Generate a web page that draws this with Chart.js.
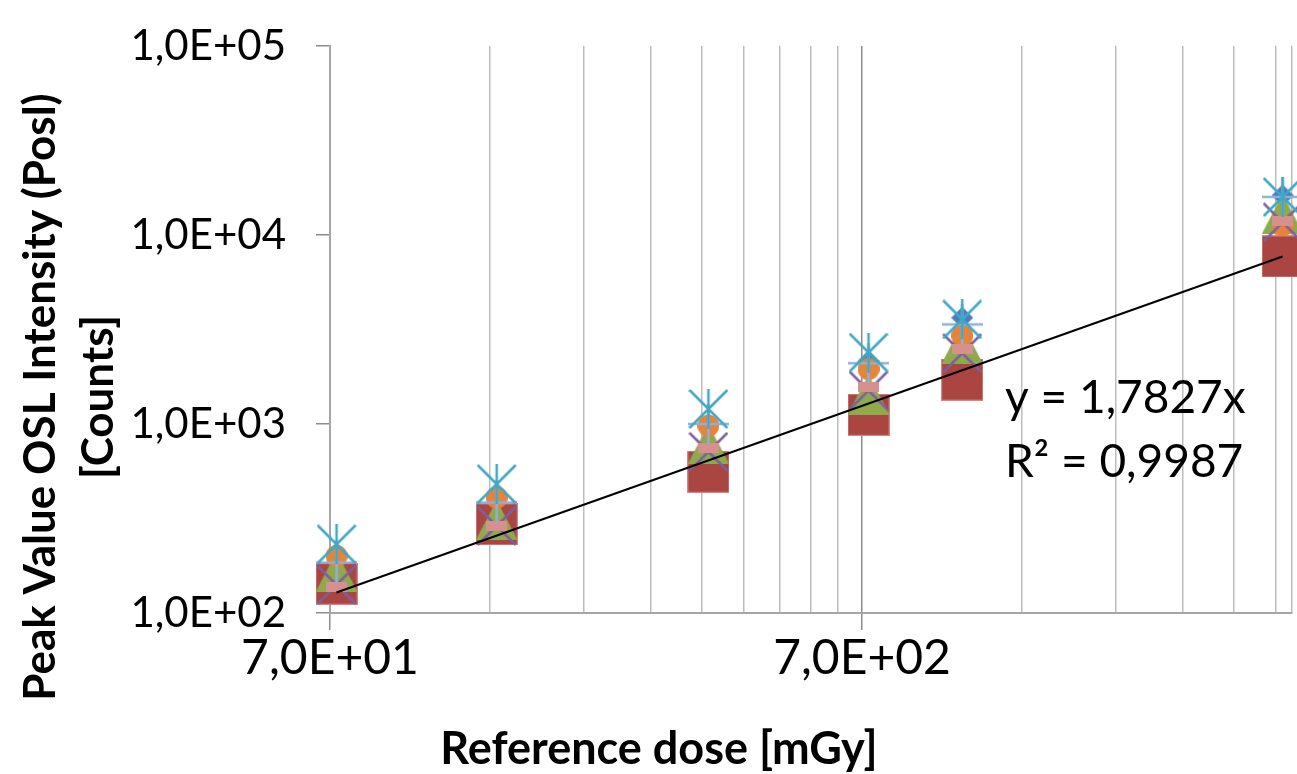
<!DOCTYPE html>
<html>
<head>
<meta charset="utf-8">
<title>Peak Value OSL Intensity vs Reference dose</title>
<script src="https://cdn.jsdelivr.net/npm/chart.js@4.4.1/dist/chart.umd.min.js"></script>
<style>
  html, body { margin: 0; padding: 0; background: #fff; }
  #wrap { width: 1297px; height: 774px; }
</style>
</head>
<body>
<div id="wrap"><canvas id="oslChart" width="1297" height="774"></canvas></div>
<script>
// reference doses [mGy]
const doses = [72, 144, 360, 720, 1080, 4320];

// peak OSL counts per dosimeter
const seriesDiamond  = [205, 415, 1000, 2150, 3650, 16200];
const seriesSquare   = [143, 295, 559, 1119, 1718, 7700];
const seriesTriangle = [165, 310, 780, 1430, 2650, 12900];
const seriesCrossX   = [141, 289, 713, 1503, 2371, 11670];
const seriesStar     = [231, 481, 1201, 2388, 3573, 15880];
const seriesCircle   = [200, 408, 980, 1954, 2937, 11250];
const seriesPlus     = [185, 384, 1000, 2097, 3365, 15900];
const seriesDash     = [137, 289, 750, 1577, 2506, 11800];

// linear fit through origin (Excel trendline)
const trendSlope = 1.7827;
const trendR2 = 0.9987;

// axis ticks
const yTicks = [1e2, 1e3, 1e4, 1e5];
const xGridValues = [70, 140, 210, 280, 350, 420, 490, 560, 630, 700, 1400, 2100, 2800, 3500, 4200];
const xLabelValues = [70, 700];
const xMin = 70, xMax = 4500;

function sciComma(v) {
    const parts = v.toExponential(1).split('e');
    const exp = parseInt(parts[1], 10);
    return parts[0].replace('.', ',') + 'E' + (exp < 0 ? '-' : '+') + String(Math.abs(exp)).padStart(2, '0');
}

function toPoints(vals) {
    return doses.map((d, i) => ({ x: d, y: vals[i] }));
}

// small canvases used as Excel-like point markers
function marker(kind, color, w, h) {
    const c = document.createElement('canvas');
    c.width = w; c.height = h;
    const g = c.getContext('2d');
    g.fillStyle = color;
    g.strokeStyle = color;
    g.lineWidth = 2.5;
    if (kind === 'square') {
        g.fillRect(0, 0, w, h);
        g.strokeStyle = 'rgba(214,140,136,0.9)';
        g.lineWidth = 1;
        g.strokeRect(0.5, 0.5, w - 1, h - 1);
    } else if (kind === 'diamond') {
        g.beginPath();
        g.moveTo(w / 2, 0); g.lineTo(w, h / 2); g.lineTo(w / 2, h); g.lineTo(0, h / 2);
        g.closePath(); g.fill();
    } else if (kind === 'triangle') {
        g.beginPath();
        g.moveTo(w / 2, 0); g.lineTo(w, h); g.lineTo(0, h);
        g.closePath(); g.fill();
    } else if (kind === 'circle') {
        g.beginPath();
        g.arc(w / 2, h / 2, w / 2, 0, Math.PI * 2);
        g.fill();
    } else if (kind === 'dash') {
        g.fillRect(0, 0, w, h);
    } else {
        g.beginPath();
        if (kind === 'x' || kind === 'star') {
            g.moveTo(1, 1); g.lineTo(w - 1, h - 1);
            g.moveTo(w - 1, 1); g.lineTo(1, h - 1);
        }
        if (kind === 'star' || kind === 'plus') {
            g.moveTo(w / 2, 0); g.lineTo(w / 2, h);
        }
        if (kind === 'plus') {
            g.moveTo(0, h / 2); g.lineTo(w, h / 2);
        }
        g.stroke();
    }
    return c;
}

function scatterSet(label, vals, style) {
    return {
        label: label,
        data: toPoints(vals),
        showLine: false,
        clip: false,
        pointStyle: style,
        pointRadius: 20,
        pointHoverRadius: 20
    };
}

const trendData = [
    { x: doses[0], y: trendSlope * doses[0] },
    { x: doses[doses.length - 1], y: trendSlope * doses[doses.length - 1] }
];

// titles and fit equation
const textPlugin = {
    id: 'textPlugin',
    afterDraw(chart) {
        const ctx = chart.ctx;
        ctx.save();
        ctx.fillStyle = '#000';

        ctx.font = 'bold 45px Lato';
        ctx.textAlign = 'center';
        ctx.textBaseline = 'alphabetic';
        ctx.fillText('Reference dose [mGy]', 659, 764);

        ctx.save();
        ctx.translate(0, 397);
        ctx.rotate(-Math.PI / 2);
        ctx.font = 'bold 44px Lato';
        ctx.fillText('Peak Value OSL Intensity (Posl)', 0, 55);
        ctx.fillText('[Counts]', 0, 113);
        ctx.restore();

        ctx.font = '46px Lato';
        ctx.textAlign = 'left';
        ctx.fillText('y = ' + String(trendSlope).replace('.', ',') + 'x', 1005, 413);
        ctx.fillText('R\u00B2 = ' + String(trendR2).replace('.', ','), 1005, 477);
        ctx.restore();
    }
};

const ctx = document.getElementById('oslChart').getContext('2d');
new Chart(ctx, {
    type: 'scatter',
    data: {
        datasets: [
            {
                label: 'Linear fit',
                data: trendData,
                showLine: true,
                borderColor: '#000',
                borderWidth: 2,
                pointRadius: 0,
                fill: false
            },
            scatterSet('Star', seriesStar, marker('star', '#40A7C4', 40, 40)),
            scatterSet('Plus', seriesPlus, marker('plus', '#8FB0DA', 41, 40)),
            scatterSet('Dash', seriesDash, marker('dash', '#D6918F', 21, 10)),
            scatterSet('X', seriesCrossX, marker('x', '#7E5FA0', 40, 40)),
            scatterSet('Circle', seriesCircle, marker('circle', '#E6843A', 22, 22)),
            scatterSet('Triangle', seriesTriangle, marker('triangle', '#8FAA4D', 42, 40)),
            scatterSet('Square', seriesSquare, marker('square', '#AA4541', 42, 42)),
            scatterSet('Diamond', seriesDiamond, marker('diamond', '#4A7EBB', 22, 22))
        ]
    },
    options: {
        responsive: false,
        animation: false,
        devicePixelRatio: 1,
        layout: { autoPadding: false, padding: { top: 46, right: 5, bottom: 0, left: 0 } },
        plugins: {
            legend: { display: false },
            tooltip: { enabled: false }
        },
        scales: {
            x: {
                type: 'logarithmic',
                bounds: 'data',
                min: xMin,
                max: xMax,
                afterBuildTicks: function (scale) {
                    scale.ticks = xGridValues.concat([xMax]).map(v => ({ value: v }));
                },
                afterFit: function (scale) { scale.height = 161; },
                grid: {
                    color: c => (c.tick && c.tick.value === 700) ? '#8C8C8C' : '#BDBDBD',
                    lineWidth: 1.5,
                    drawTicks: true,
                    tickLength: 17,
                    tickColor: c => (c.tick && xLabelValues.includes(c.tick.value)) ? '#8C8C8C' : 'rgba(0,0,0,0)'
                },
                border: { color: '#A6A6A6', width: 2 },
                ticks: {
                    autoSkip: false,
                    maxRotation: 0,
                    padding: 0,
                    color: '#000',
                    font: { family: 'Lato', size: 48 },
                    callback: v => xLabelValues.includes(v) ? sciComma(v) : ''
                }
            },
            y: {
                type: 'logarithmic',
                min: 100,
                max: 100000,
                afterBuildTicks: function (scale) {
                    scale.ticks = yTicks.map(v => ({ value: v }));
                },
                afterFit: function (scale) { scale.width = 330; },
                grid: {
                    drawOnChartArea: false,
                    drawTicks: true,
                    tickLength: 14,
                    tickColor: '#8C8C8C',
                    lineWidth: 1.5
                },
                border: { color: '#A6A6A6', width: 2 },
                ticks: {
                    padding: 30,
                    color: '#000',
                    font: { family: 'Lato', size: 42, lineHeight: 0.7 },
                    callback: v => sciComma(v)
                }
            }
        }
    },
    plugins: [textPlugin]
});
</script>
</body>
</html>
